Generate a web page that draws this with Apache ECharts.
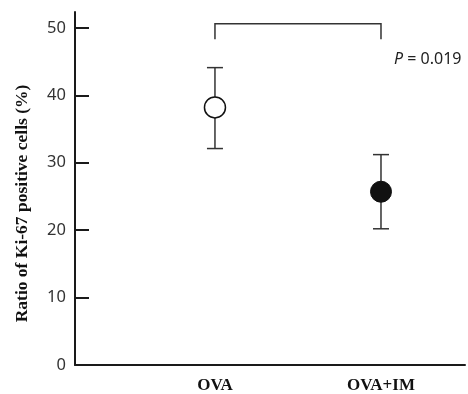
<!DOCTYPE html>
<html>
<head>
<meta charset="utf-8">
<script src="https://cdn.jsdelivr.net/npm/echarts@6/dist/echarts.min.js"></script>
<style>
  html, body { margin: 0; padding: 0; background: #fff; }
  #chart { width: 468px; height: 394px; }
</style>
</head>
<body>
<div id="chart"></div>
<script>
// groups, placed at x = 1 and x = 2
var groups = ['OVA', 'OVA+IM'];
var groupPos = [1, 2];
var means = [38.2, 25.7];
var upper = [44.1, 31.2];
var lower = [32.1, 20.2];
var yTicks = [0, 10, 20, 30, 40, 50];
// significance bracket (top level and drop level)
var bracketTop = 50.6;
var bracketDrop = 48.3;
var pText = '0.019';

var chart = echarts.init(document.getElementById('chart'));

var errData = groupPos.map(function (x, i) { return [x, lower[i], upper[i]]; });

var option = {
  animation: false,
  backgroundColor: '#fff',
  title: {
    text: '{i|P} = ' + pText,
    left: 389,
    top: 46,
    textStyle: {
      fontFamily: 'Noto Sans',
      fontSize: 16,
      fontWeight: 'normal',
      color: '#222',
      rich: {
        i: { fontFamily: 'Noto Sans', fontSize: 16, fontStyle: 'italic', color: '#222' }
      }
    }
  },
  grid: { left: 75, right: 3, top: 12, bottom: 26 },
  xAxis: {
    type: 'value',
    min: 0.157,
    max: 2.506,
    splitLine: { show: false },
    axisLine: { show: true, onZero: false, lineStyle: { color: '#1a1a1a', width: 2 } },
    axisTick: { show: false },
    axisLabel: {
      customValues: groupPos,
      formatter: function (v) { return groups[groupPos.indexOf(v)] || ''; },
      fontFamily: 'Liberation Serif',
      fontWeight: 'bold',
      fontSize: 17,
      color: '#111',
      margin: 12
    }
  },
  yAxis: {
    type: 'value',
    min: 0,
    max: 52.35,
    name: 'Ratio of Ki-67 positive cells (%)',
    nameLocation: 'middle',
    nameGap: 44,
    nameTextStyle: {
      fontFamily: 'Liberation Serif',
      fontWeight: 'bold',
      fontSize: 17.5,
      color: '#111',
      padding: [0, 30, 0, 0]
    },
    splitLine: { show: false },
    axisLine: { show: true, lineStyle: { color: '#1a1a1a', width: 2 } },
    axisTick: {
      customValues: yTicks,
      inside: true,
      length: 14,
      lineStyle: { color: '#1a1a1a', width: 2 }
    },
    axisLabel: {
      customValues: yTicks,
      fontFamily: 'Noto Sans',
      fontSize: 16.5,
      color: '#333',
      margin: 9
    }
  },
  series: [
    {
      type: 'custom',
      data: errData,
      z: 1,
      renderItem: function (params, api) {
        var x = api.value(0);
        var lo = api.coord([x, api.value(1)]);
        var hi = api.coord([x, api.value(2)]);
        var w = 8;
        var st = { stroke: '#333', lineWidth: 1.5 };
        return {
          type: 'group',
          children: [
            { type: 'line', shape: { x1: hi[0], y1: hi[1], x2: lo[0], y2: lo[1] }, style: st },
            { type: 'line', shape: { x1: hi[0] - w, y1: hi[1], x2: hi[0] + w, y2: hi[1] }, style: st },
            { type: 'line', shape: { x1: lo[0] - w, y1: lo[1], x2: lo[0] + w, y2: lo[1] }, style: st }
          ]
        };
      }
    },
    {
      type: 'scatter',
      z: 3,
      symbol: 'circle',
      symbolSize: 21,
      itemStyle: { opacity: 1 },
      data: [
        { value: [groupPos[0], means[0]], itemStyle: { color: '#fff', borderColor: '#111', borderWidth: 1.5, opacity: 1 } },
        { value: [groupPos[1], means[1]], itemStyle: { color: '#111', borderColor: '#111', borderWidth: 1, opacity: 1 } }
      ]
    },
    {
      type: 'custom',
      data: [[groupPos[0], groupPos[1], bracketDrop, bracketTop]],
      renderItem: function (params, api) {
        var a = api.coord([api.value(0), api.value(2)]);
        var b = api.coord([api.value(0), api.value(3)]);
        var c = api.coord([api.value(1), api.value(3)]);
        var d = api.coord([api.value(1), api.value(2)]);
        return {
          type: 'polyline',
          shape: { points: [a, b, c, d] },
          style: { stroke: '#333', lineWidth: 1.5, fill: null }
        };
      }
    }
  ]
};

chart.setOption(option);
</script>
</body>
</html>
